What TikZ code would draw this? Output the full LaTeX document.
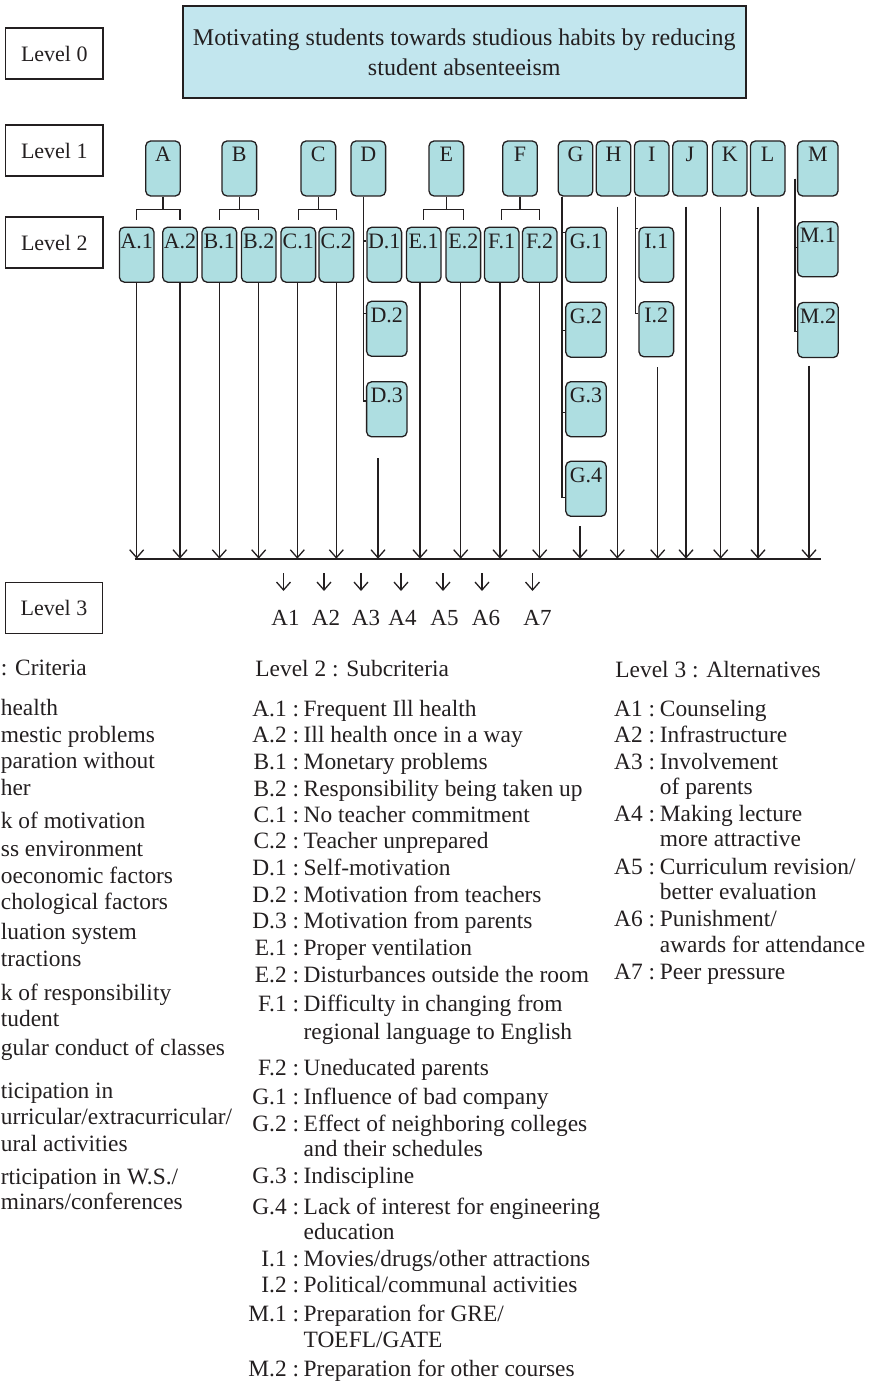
\documentclass[tikz,border=0pt]{standalone}
\usepackage{fontspec}
\setmainfont{Liberation Serif}
\usetikzlibrary{arrows.meta,positioning}
\definecolor{boxfill}{RGB}{174,222,225}
\definecolor{goalfill}{RGB}{194,230,238}
\definecolor{ink}{RGB}{35,31,32}
\tikzset{
  level box/.style={draw=ink, line width=0.65pt, minimum width=48.7pt, minimum height=25.5pt, inner sep=0pt, font=\fontsize{11}{13}\selectfont},
  goal box/.style={draw=ink, line width=1pt, fill=goalfill, minimum width=281.7pt, minimum height=46.3pt, inner sep=0pt, align=center, font=\fontsize{12}{15}\selectfont},
  crit box/.style={draw=ink, line width=0.65pt, fill=boxfill, rounded corners=2.5pt, inner sep=0pt, minimum width=17.3pt, text height=10.5pt, text depth=17pt, font=\fontsize{11}{13}\selectfont},
  wide/.style={minimum width=20.2pt},
  link/.style={draw=ink, line width=0.65pt},
  flow/.style={link, -{Straight Barb[length=4pt, width=7pt]}},
  legend/.style={anchor=mid west, inner sep=0pt, font=\fontsize{11.7}{14}\selectfont},
  key/.style={legend, anchor=mid east},
  alt/.style={anchor=base, inner sep=0pt, font=\fontsize{11.5}{14}\selectfont},
}

\begin{document}
\begin{tikzpicture}[x=0.5pt, y=-0.5pt, color=ink]
  \useasboundingbox (0,0) rectangle (878,1384);

  % Level labels
  \node[level box] (lv0) at (54.3,53.5) {Level 0};
  \node[level box] (lv1) at (54.3,150.5) {Level 1};
  \node[level box] (lv2) at (54.3,242.5) {Level 2};
  \node[level box] (lv3) at (54,608) {Level 3};

  % Goal
  \node[goal box] (goal) at (464.3,52)
    {Motivating students towards studious habits by reducing\\student absenteeism};

  % Level 1: criteria
  \foreach \n/\x in {A/163,B/239.3,C/318.3,D/368.3,E/446.3,F/520,G/575.5,H/613.5,I/651.7,J/690,K/729.7,L/767.7}
    \node[crit box] (\n) at (\x,168.5) {\n};
  \node[crit box, wide] (M) at (817.8,168.5) {M};

  % Level 2: subcriteria
  \foreach \n/\t/\x in {A1/A.1/136.7,A2/A.2/180,B1/B.1/219.3,B2/B.2/258.7,C1/C.1/298.3,C2/C.2/336.3,D1/D.1/384.3,E1/E.1/423.7,E2/E.2/463.3,F1/F.1/501.7,F2/F.2/539.7,I1/I.1/656.3}
    \node[crit box] (\n) at (\x,254.7) {\t};
  \node[crit box, wide] (G1) at (586,254.7) {G.1};
  \node[crit box, wide] (M1) at (817.8,249.3) {M.1};
  \node[crit box, wide] (D2) at (386.8,328.8) {D.2};
  \node[crit box, wide] (D3) at (386.8,409.3) {D.3};
  \node[crit box, wide] (G2) at (586,329.7) {G.2};
  \node[crit box, wide] (G3) at (586,409.2) {G.3};
  \node[crit box, wide] (G4) at (586,488.8) {G.4};
  \node[crit box] (I2) at (656.3,329.3) {I.2};
  \node[crit box, wide] (M2) at (818,330.1) {M.2};

  % Brackets
  \foreach \p/\a/\b in {A/A1/A2,B/B1/B2,C/C1/C2,E/E1/E2,F/F1/F2}{
    \draw[link] (\p.south) -- ++(0,13) coordinate (j\p);
    \draw[link] ([yshift=3.5pt]\a.north) |- (j\p) -| ([yshift=3.5pt]\b.north);
  }

  % Side branches
  \foreach \b/\dy in {D1/14.5,D2/13,D3/20}
    \draw[link] ([shift={(-5,0)}]D.south) |- ([shift={(0,\dy)}]\b.north west);
  \foreach \b/\dy in {G1/6,G2/28.8,G3/31.6,G4/37}
    \draw[link] ([shift={(-13.5,0)}]G.south) |- ([shift={(0,\dy)}]\b.north west);
  \foreach \b/\dy in {I1/2,I2/12.5}
    \draw[link] ([shift={(-16.2,0)}]I.south) |- ([shift={(0,\dy)}]\b.north west);
  \foreach \b/\dy in {M1/26.5,M2/29.4}
    \draw[link] ([shift={(-2,38.3)}]M.north west) |- ([shift={(0,\dy)}]\b.north west);

  % Collecting line
  \coordinate (barL) at (134.7,558.7);
  \coordinate (barR) at (820.7,558.7);
  \draw[link, line width=0.8pt] (barL) -- (barR);
  \foreach \n/\dx/\dy in {A1/0/0,A2/0/0,B1/0/0,B2/0/0,C1/-1/0,C2/0/0,D3/-8.8/21,E1/-3.7/0,E2/-2.6/0,F1/-1.7/0,F2/0/0,G4/-6/9.3,H/3.8/10,I2/1.4/10,J/-4/10,K/-9/10,L/-9.7/10,M2/-9/7.3}
    \draw[flow] ([shift={(\dx,\dy)}]\n.south) coordinate (s) -- (s |- barL);

  % Level 3: alternatives
  \foreach \i/\x/\dx in {1/285.5/-2,2/326/-2,3/366/-5,4/402.5/-1.5,5/444.5/-1.5,6/486/-4,7/537.5/-5}{
    \node[alt] (alt\i) at (\x,625) {A\i};
    \draw[flow] ([shift={(\dx,-52)}]alt\i.base) -- ([shift={(\dx,-34)}]alt\i.base);
  }

  % Legend: criteria (cut at the left edge)
  \foreach \t/\y [count=\i] in {{: Criteria}/671,health/711,mestic problems/738,paration without/764,her/791,k of motivation/824,ss environment/852,oeconomic factors/879,chological factors/905,luation system/935,tractions/962,k of responsibility/996,tudent/1022,gular conduct of classes/1051,ticipation in/1094,{urricular/extracurricular/}/1120,ural activities/1147,{rticipation in W.S./}/1180,{minars/conferences}/1205}
    \node[legend] (crit\i) at (0.5,\y) {\t};

  % Legend: subcriteria
  \node[legend] (subhead) at (255,671.7) {Level 2 : Subcriteria};
  \foreach \k/\t/\y [count=\i] in {A.1 :/Frequent Ill health/711.7,A.2 :/Ill health once in a way/738.3,B.1 :/Monetary problems/765,B.2 :/Responsibility being taken up/791.7,C.1 :/No teacher commitment/818.3,C.2 :/Teacher unprepared/844.3,D.1 :/Self-motivation/871,D.2 :/Motivation from teachers/897.7,D.3 :/Motivation from parents/924.3,E.1 :/Proper ventilation/951,E.2 :/Disturbances outside the room/978.3,F.1 :/Difficulty in changing from/1006.7,/regional language to English/1035,F.2 :/Uneducated parents/1071,G.1 :/Influence of bad company/1100,G.2 :/Effect of neighboring colleges/1127,/and their schedules/1152,G.3 :/Indiscipline/1179.3,G.4 :/Lack of interest for engineering/1210,/education/1235,I.1 :/{Movies/drugs/other attractions}/1261.7,I.2 :/{Political/communal activities}/1288.3,M.1 :/{Preparation for GRE/}/1316.7,/{TOEFL/GATE}/1343.3,M.2 :/Preparation for other courses/1371.7}{
    \node[key] (subk\i) at (299.5,\y) {\k};
    \node[legend] (subt\i) at (303.3,\y) {\t};
  }

  % Legend: alternatives
  \node[legend] (althead) at (615,673.3) {Level 3 : Alternatives};
  \foreach \k/\t/\y [count=\i] in {A1 :/Counseling/711.7,A2 :/Infrastructure/738.3,A3 :/Involvement/765,/of parents/790,A4 :/Making lecture/816.7,/more attractive/841.7,A5 :/{Curriculum revision/}/870,/better evaluation/895,A6 :/{Punishment/}/921.7,/awards for attendance/948.3,A7 :/Peer pressure/975}{
    \node[key] (altk\i) at (655.5,\y) {\k};
    \node[legend] (altt\i) at (659.5,\y) {\t};
  }
\end{tikzpicture}
\end{document}
